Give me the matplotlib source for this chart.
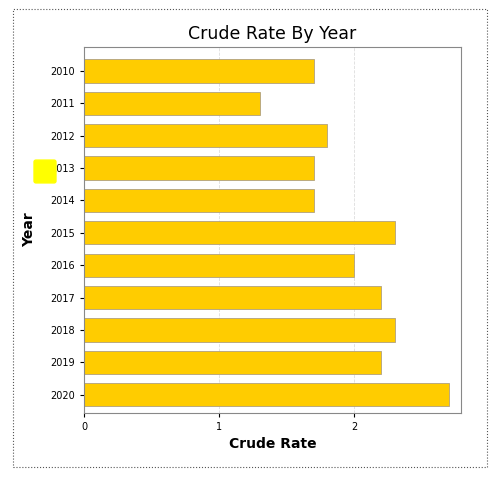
import matplotlib.pyplot as plt
from matplotlib.patches import Rectangle, FancyBboxPatch

years = ['2010', '2011', '2012', '2013', '2014', '2015', '2016', '2017', '2018', '2019', '2020']
crude_rate = [1.7, 1.3, 1.8, 1.7, 1.7, 2.3, 2.0, 2.2, 2.3, 2.2, 2.7]

fig = plt.figure(figsize=(4.95, 4.79), dpi=100)
ax = fig.add_axes([0.170, 0.138, 0.761, 0.764])

ax.barh(years, crude_rate, height=0.72, color='#FFCC00', edgecolor='#B0A080', linewidth=0.6)
ax.set_xlim(0, 2.79)
ax.set_ylim(10.56, -0.74)
ax.set_xticks([0, 1, 2])
ax.xaxis.grid(True, linestyle='--', color='#DDDDDD', linewidth=0.6)
ax.set_axisbelow(True)
ax.tick_params(labelsize=7, length=3)
for s in ax.spines.values():
    s.set_color('#888888')

ax.set_title('Crude Rate By Year', fontsize=12.5, pad=6)
ax.set_xlabel('Crude Rate', fontsize=10, fontweight='bold', labelpad=4)
ax.set_ylabel('Year', fontsize=10, fontweight='bold', labelpad=10)

# outer dotted frame
fig.patches.append(Rectangle((13 / 495, 12 / 479), 474 / 495, 458 / 479, transform=fig.transFigure,
                             fill=False, linestyle=':', edgecolor='#555555', linewidth=0.8))
# yellow highlighter mark near 2013
fig.patches.append(FancyBboxPatch((36 / 495, 1 - 181 / 479), 18 / 495, 19 / 479, transform=fig.transFigure,
                                  boxstyle='round,pad=0.004', color='#FFFF00', zorder=0))

fig.savefig('out.png', dpi=100)
